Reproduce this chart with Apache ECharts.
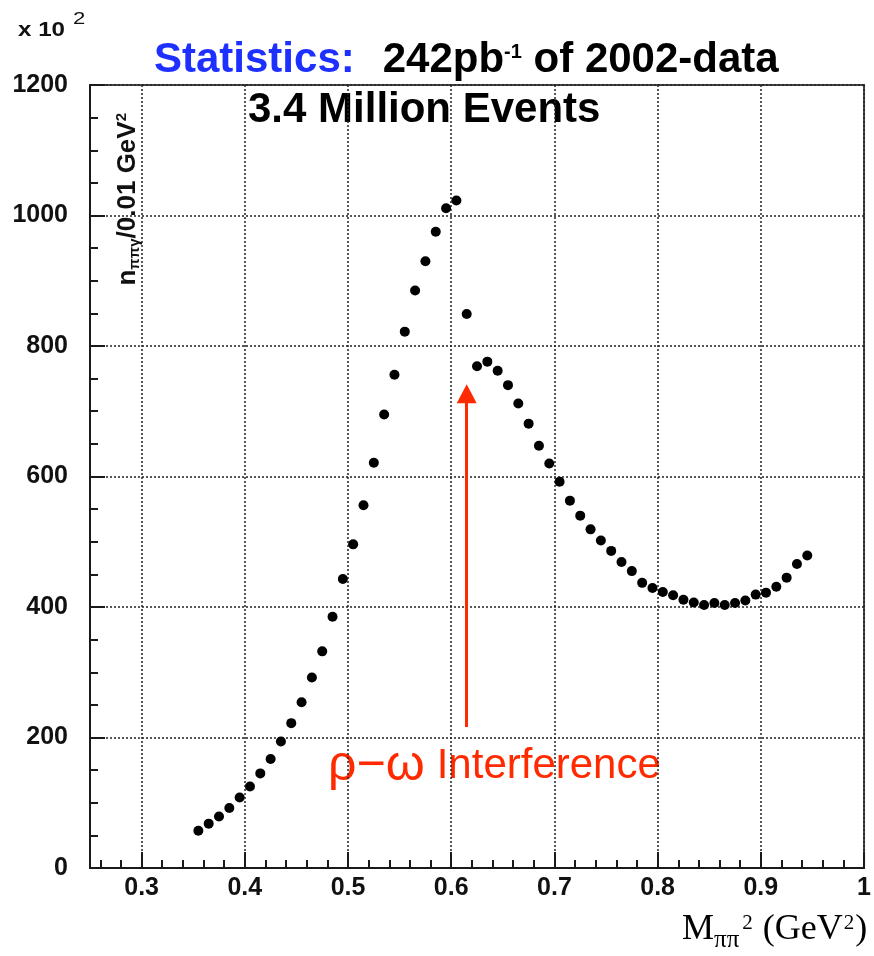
<!DOCTYPE html>
<html>
<head>
<meta charset="utf-8">
<title>M_pipi^2 spectrum</title>
<script src="https://cdn.jsdelivr.net/npm/echarts@6/dist/echarts.min.js"></script>
<style>
  html, body { margin: 0; padding: 0; background: #ffffff; }
  #chart { width: 874px; height: 956px; }
</style>
</head>
<body>
<div id="chart"></div>
<script>
// Bin centres of M_pipi^2 (GeV^2), 0.01 GeV^2 wide bins
const massSq = [
  0.355, 0.365, 0.375, 0.385, 0.395, 0.405, 0.415, 0.425, 0.435, 0.445,
  0.455, 0.465, 0.475, 0.485, 0.495, 0.505, 0.515, 0.525, 0.535, 0.545,
  0.555, 0.565, 0.575, 0.585, 0.595, 0.605, 0.615, 0.625, 0.635, 0.645,
  0.655, 0.665, 0.675, 0.685, 0.695, 0.705, 0.715, 0.725, 0.735, 0.745,
  0.755, 0.765, 0.775, 0.785, 0.795, 0.805, 0.815, 0.825, 0.835, 0.845,
  0.855, 0.865, 0.875, 0.885, 0.895, 0.905, 0.915, 0.925, 0.935, 0.945
];

// Events per bin, in units of 10^2
const counts = [
  57, 68, 79, 92, 108, 125, 145, 167, 194, 222,
  254, 292, 332, 385, 443, 496, 556, 621, 695, 756,
  822, 885, 930, 975, 1011, 1023, 849, 769, 776, 762,
  740, 712, 681, 647, 620, 592, 563, 540, 519, 502,
  486, 469, 455, 437, 429, 423, 418, 411, 407, 403,
  406, 403, 406, 410, 419, 422, 431, 445, 466, 479
];

// Axis ranges
const xRange = [0.25, 1.0];
const yRange = [0, 1200];
const xStep = 0.1;
const yStep = 200;

// rho-omega interference arrow (x position, from / to in counts)
const arrowX = 0.615;
const arrowSpan = [216, 727];

const RED = '#ff2a00';
const BLUE = '#1e30ff';
const SANS = '"Liberation Sans", Arial, Helvetica, sans-serif';
const SERIF = '"Liberation Serif", "Times New Roman", Times, serif';
const INK = '#1a1a1a';

const chart = echarts.init(document.getElementById('chart'), null, { renderer: 'canvas' });

const points = massSq.map((m, i) => [m, counts[i]]);

const option = {
  animation: false,
  backgroundColor: '#ffffff',
  grid: {
    left: 90, right: 4, top: 85, bottom: 88,
    show: true,
    backgroundColor: 'transparent',
    borderColor: '#444',
    borderWidth: 2
  },
  xAxis: {
    type: 'value',
    min: xRange[0],
    max: xRange[1],
    minInterval: xStep,
    maxInterval: xStep,
    axisLine: { show: true, onZero: false, lineStyle: { color: INK, width: 2 } },
    axisTick: { show: true, inside: true, length: 16, lineStyle: { color: INK, width: 2 } },
    minorTick: { show: true, splitNumber: 5, length: 8, lineStyle: { color: INK, width: 2 } },
    axisLabel: {
      show: true, margin: 8, fontSize: 25, fontWeight: 'bold',
      fontFamily: SANS, color: '#111', showMinLabel: false,
      formatter: v => String(v)
    },
    splitLine: { show: true, lineStyle: { color: '#222', width: 1.5, type: [2, 2] } }
  },
  yAxis: {
    type: 'value',
    min: yRange[0],
    max: yRange[1],
    interval: yStep,
    axisLine: { show: true, onZero: false, lineStyle: { color: INK, width: 2 } },
    axisTick: { show: true, inside: true, length: 15, lineStyle: { color: INK, width: 2 } },
    minorTick: { show: true, splitNumber: 4, length: 8, lineStyle: { color: INK, width: 2 } },
    axisLabel: {
      show: true, margin: 22, fontSize: 25, fontWeight: 'bold',
      fontFamily: SANS, color: '#111',
      formatter: v => String(v)
    },
    splitLine: { show: true, lineStyle: { color: '#222', width: 1.5, type: [2, 2] } }
  },
  series: [{
    type: 'scatter',
    data: points,
    symbol: 'circle',
    symbolSize: 10,
    itemStyle: { color: '#000000', opacity: 1 },
    z: 5,
    silent: true,
    markLine: {
      silent: true,
      symbol: ['none', 'triangle'],
      symbolSize: [20, 19],
      label: { show: false },
      lineStyle: { color: RED, width: 3, type: 'solid' },
      emphasis: { disabled: true },
      data: [[
        { coord: [arrowX, arrowSpan[0]] },
        { coord: [arrowX, arrowSpan[1]] }
      ]]
    }
  }],
  graphic: [
    // axis scale factor
    {
      type: 'text', x: 18, y: 30, scaleX: 1.15,
      style: {
        text: 'x 10', fontFamily: SANS, fontSize: 21, fontWeight: 'bold', fill: '#111',
        align: 'left', textAlign: 'left', verticalAlign: 'middle', textVerticalAlign: 'middle'
      }
    },
    {
      type: 'text', x: 73, y: 19, scaleX: 1.3,
      style: {
        text: '2', fontFamily: SANS, fontSize: 17, fill: '#111',
        align: 'left', textAlign: 'left', verticalAlign: 'middle', textVerticalAlign: 'middle'
      }
    },
    // headline
    {
      type: 'text', x: 154, y: 60,
      style: {
        text: '{b|Statistics:}{sp| }{k|242pb}{s|-1}{k| of 2002-data}',
        align: 'left', textAlign: 'left', verticalAlign: 'middle', textVerticalAlign: 'middle',
        rich: {
          b: { fontFamily: SANS, fontSize: 42, fontWeight: 'bold', fill: BLUE, lineHeight: 46 },
          sp: { fontFamily: SANS, fontSize: 42, width: 28, lineHeight: 46 },
          k: { fontFamily: SANS, fontSize: 42, fontWeight: 'bold', fill: '#000', lineHeight: 46 },
          s: { fontFamily: SANS, fontSize: 20, fontWeight: 'bold', fill: '#000', lineHeight: 39,
               verticalAlign: 'top', padding: [5, 0, 0, 0] }
        }
      }
    },
    {
      type: 'text', x: 248, y: 110,
      style: {
        text: '3.4 Million Events', fontFamily: SANS, fontSize: 42, fontWeight: 'bold', fill: '#000',
        align: 'left', textAlign: 'left', verticalAlign: 'middle', textVerticalAlign: 'middle'
      }
    },
    // y axis title, reading upwards
    {
      type: 'text', x: 128, y: 113, rotation: Math.PI / 2,
      style: {
        text: '{n|n}{sub|ππγ}{n|/0.01 GeV}{sup|2}',
        align: 'right', textAlign: 'right', verticalAlign: 'middle', textVerticalAlign: 'middle',
        rich: {
          n: { fontFamily: SANS, fontSize: 26, fontWeight: 'bold', fill: '#111', lineHeight: 28 },
          sub: { fontFamily: SANS, fontSize: 15, fontWeight: 'bold', fill: '#111', lineHeight: 14, verticalAlign: 'bottom' },
          sup: { fontFamily: SANS, fontSize: 15, fontWeight: 'bold', fill: '#111', lineHeight: 16, verticalAlign: 'top' }
        }
      }
    },
    // x axis title
    {
      type: 'text', x: 682, y: 930,
      style: {
        text: '{m|M}{sub|ππ}{sup|2}{m| (GeV}{sup|2}{m|)}',
        align: 'left', textAlign: 'left', verticalAlign: 'middle', textVerticalAlign: 'middle',
        rich: {
          m: { fontFamily: SERIF, fontSize: 36, fill: '#000', lineHeight: 46 },
          sub: { fontFamily: SERIF, fontSize: 25, fill: '#000', lineHeight: 24, verticalAlign: 'bottom',
                 padding: [0, 2, 0, 0] },
          sup: { fontFamily: SERIF, fontSize: 21, fill: '#000', lineHeight: 39, verticalAlign: 'top',
                 padding: [6, 1, 0, 1] }
        }
      }
    },
    // annotation text
    {
      type: 'text', x: 328, y: 766,
      style: {
        text: '{g|ρ−ω}{sp| }{t|Interference}',
        align: 'left', textAlign: 'left', verticalAlign: 'middle', textVerticalAlign: 'middle',
        rich: {
          g: { fontFamily: SANS, fontSize: 50, fill: RED, lineHeight: 50 },
          sp: { fontFamily: SANS, fontSize: 42, width: 12, lineHeight: 48 },
          t: { fontFamily: SANS, fontSize: 42, fill: RED, lineHeight: 48 }
        }
      }
    }
  ]
};

chart.setOption(option);
</script>
</body>
</html>
